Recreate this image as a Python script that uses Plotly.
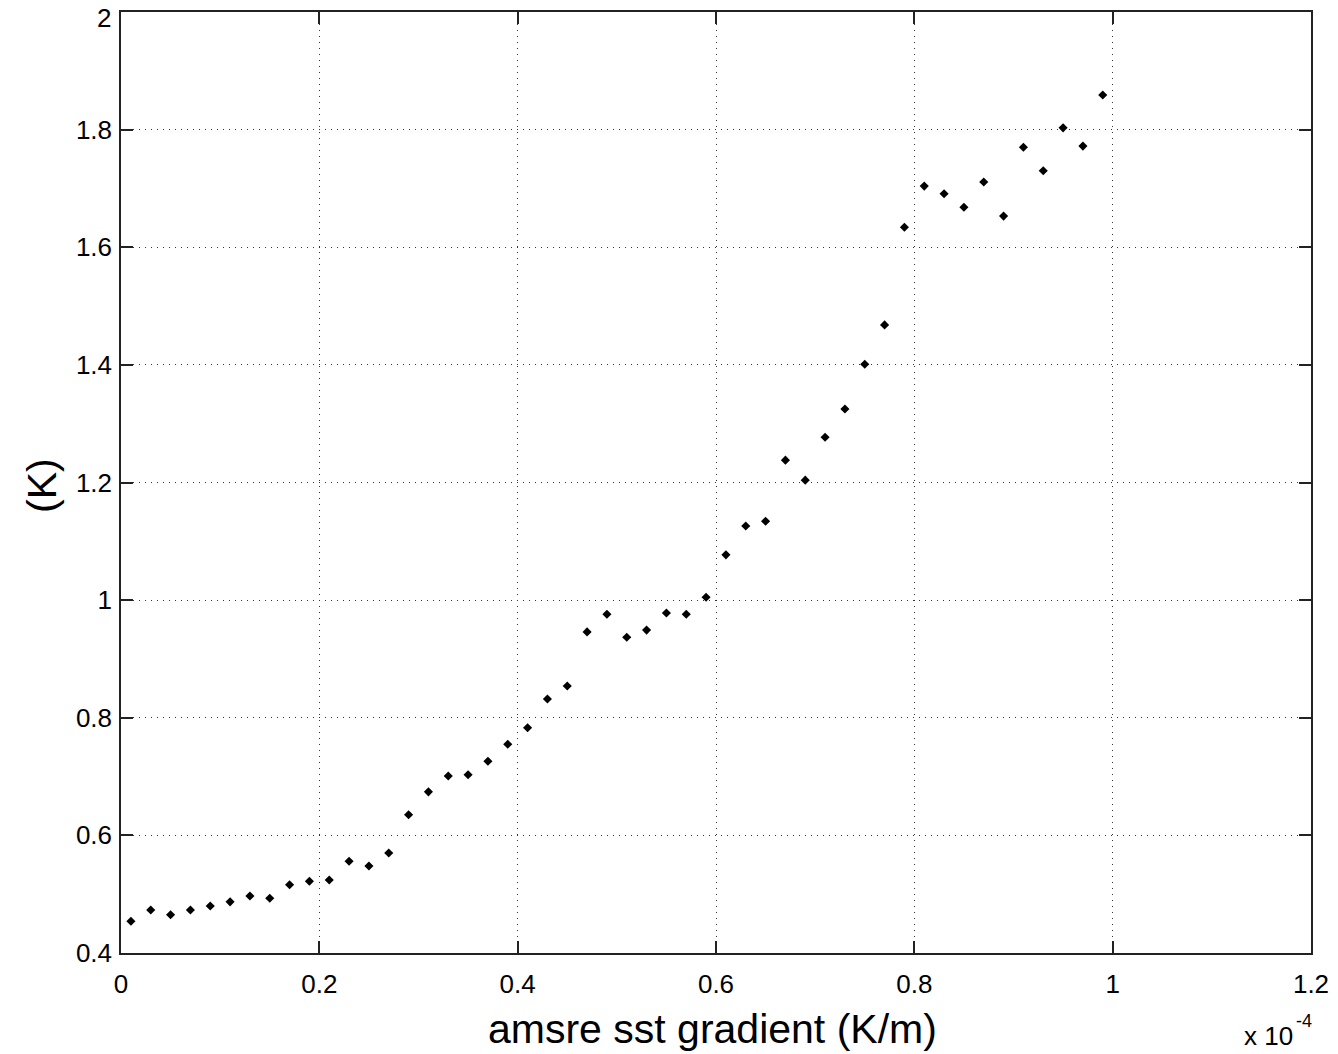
import plotly.graph_objects as go

# x in units of 1e-4 K/m
x_vals = [0.01, 0.03, 0.05, 0.07, 0.09, 0.11, 0.13, 0.15, 0.17, 0.19,
          0.21, 0.23, 0.25, 0.27, 0.29, 0.31, 0.33, 0.35, 0.37, 0.39,
          0.41, 0.43, 0.45, 0.47, 0.49, 0.51, 0.53, 0.55, 0.57, 0.59,
          0.61, 0.63, 0.65, 0.67, 0.69, 0.71, 0.73, 0.75, 0.77, 0.79,
          0.81, 0.83, 0.85, 0.87, 0.89, 0.91, 0.93, 0.95, 0.97, 0.99]
y_vals = [0.454, 0.473, 0.465, 0.473, 0.480, 0.487, 0.497, 0.493, 0.516, 0.522,
          0.524, 0.556, 0.548, 0.570, 0.635, 0.674, 0.701, 0.703, 0.726, 0.755,
          0.783, 0.832, 0.854, 0.946, 0.976, 0.937, 0.949, 0.978, 0.976, 1.005,
          1.077, 1.126, 1.134, 1.238, 1.204, 1.277, 1.325, 1.401, 1.468, 1.634,
          1.704, 1.691, 1.668, 1.711, 1.653, 1.770, 1.730, 1.803, 1.772, 1.859]

x_ticks = [0, 0.2, 0.4, 0.6, 0.8, 1.0, 1.2]
x_tick_labels = ["0", "0.2", "0.4", "0.6", "0.8", "1", "1.2"]
y_ticks = [0.4, 0.6, 0.8, 1.0, 1.2, 1.4, 1.6, 1.8, 2.0]
y_tick_labels = ["0.4", "0.6", "0.8", "1", "1.2", "1.4", "1.6", "1.8", "2"]

font_family = "Liberation Sans, Arial, Helvetica, sans-serif"

W, H = 1338, 1054
L, R, T, B = 121, 27, 12, 101
pw = W - L - R
ph = H - T - B


def px_x(px):
    return (px - L) / pw


def px_y(py):
    return (H - B - py) / ph


fig = go.Figure()
fig.add_trace(go.Scatter(
    x=x_vals, y=y_vals, mode="markers",
    marker=dict(symbol="diamond", size=7, color="black"),
    showlegend=False,
))

axis_common = dict(
    showline=True, linecolor="#222", linewidth=1.5, mirror="ticks",
    ticks="inside", ticklen=12, tickcolor="#222", tickwidth=1.5,
    showgrid=True, gridcolor="#333", gridwidth=1, griddash="1px,5px",
    zeroline=False, automargin=False, ticklabeloverflow="allow",
    tickfont=dict(family=font_family, size=26, color="black"),
)

# top y label drawn as annotation (slightly lowered so it is not cut off)
y_text_axis = y_tick_labels[:-1] + [""]

fig.update_xaxes(range=[-1e-9, 1.2 + 1e-9], tickvals=x_ticks, ticktext=x_tick_labels,
                 ticklabelstandoff=7, **axis_common)
fig.update_yaxes(range=[0.4 - 1e-9, 2.0 + 1e-9], tickvals=y_ticks, ticktext=y_text_axis,
                 ticklabelstandoff=2, **axis_common)

fig.update_layout(
    width=W, height=H,
    margin=dict(l=L, r=R, t=T, b=B),
    plot_bgcolor="white", paper_bgcolor="white",
    font=dict(family=font_family, color="black"),
    annotations=[
        dict(text="amsre sst gradient (K/m)", x=px_x(712), y=px_y(1029),
             xref="paper", yref="paper", xanchor="center", yanchor="middle",
             showarrow=False, font=dict(size=41, family=font_family, color="black")),
        dict(text="(K)", x=px_x(42), y=px_y(486), xref="paper", yref="paper",
             xanchor="center", yanchor="middle", textangle=-90,
             showarrow=False, font=dict(size=41, family=font_family, color="black")),
        dict(text="x 10", x=px_x(1268), y=px_y(1036), xref="paper", yref="paper",
             xanchor="center", yanchor="middle",
             showarrow=False, font=dict(size=26, family=font_family, color="black")),
        dict(text="-4", x=px_x(1304), y=px_y(1021), xref="paper", yref="paper",
             xanchor="center", yanchor="middle",
             showarrow=False, font=dict(size=18, family=font_family, color="black")),
        dict(text=y_tick_labels[-1], x=px_x(113), y=px_y(18), xref="paper", yref="paper",
             xanchor="right", yanchor="middle",
             showarrow=False, font=dict(size=26, family=font_family, color="black")),
    ],
)

fig.write_html("out.html", config={"displayModeBar": False},
               post_script="document.body.style.margin='0';")
